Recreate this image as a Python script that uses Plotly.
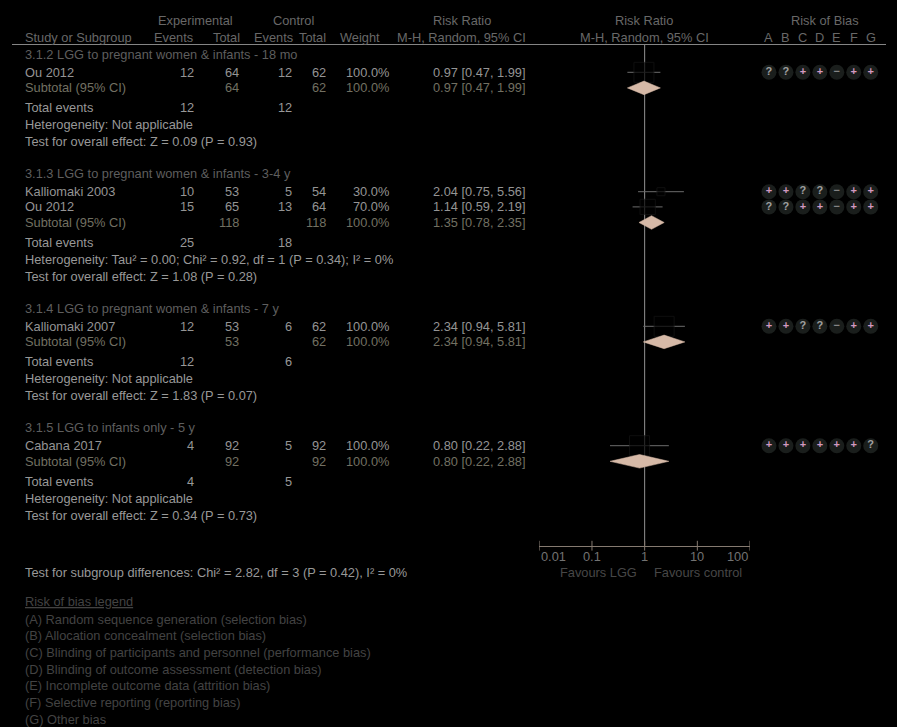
import numpy as np
import plotly.graph_objects as go

W, H = 897, 727

# ---------------- data ----------------
group_titles = [
    "3.1.2 LGG to pregnant women & infants - 18 mo",
    "3.1.3 LGG to pregnant women & infants - 3-4 y",
    "3.1.4 LGG to pregnant women & infants - 7 y",
    "3.1.5 LGG to infants only - 5 y",
]
study_names = ["Ou 2012", "Kalliomaki 2003", "Ou 2012", "Kalliomaki 2007", "Cabana 2017"]
study_group = [0, 1, 1, 2, 3]
exp_events = [12, 10, 15, 12, 4]
exp_total = [64, 53, 65, 53, 92]
ctrl_events = [12, 5, 13, 6, 5]
ctrl_total = [62, 54, 64, 62, 92]
weights = [100.0, 30.0, 70.0, 100.0, 100.0]
rr = [0.97, 2.04, 1.14, 2.34, 0.80]
rr_lo = [0.47, 0.75, 0.59, 0.94, 0.22]
rr_hi = [1.99, 5.56, 2.19, 5.81, 2.88]
rob = ["??++-++", "++??-++", "??++-++", "++??-++", "++++++?"]

sub_exp_total = [64, 118, 53, 92]
sub_ctrl_total = [62, 118, 62, 92]
sub_weight = [100.0, 100.0, 100.0, 100.0]
sub_rr = [0.97, 1.35, 2.34, 0.80]
sub_lo = [0.47, 0.78, 0.94, 0.22]
sub_hi = [1.99, 2.35, 5.81, 2.88]
tot_exp_events = [12, 25, 12, 4]
tot_ctrl_events = [12, 18, 6, 5]
heterogeneity = [
    "Not applicable",
    "Tau² = 0.00; Chi² = 0.92, df = 1 (P = 0.34); I² = 0%",
    "Not applicable",
    "Not applicable",
]
overall_effect = [
    "Z = 0.09 (P = 0.93)",
    "Z = 1.08 (P = 0.28)",
    "Z = 1.83 (P = 0.07)",
    "Z = 0.34 (P = 0.73)",
]
subgroup_diff = "Test for subgroup differences: Chi² = 2.82, df = 3 (P = 0.42), I² = 0%"
axis_ticks = [0.01, 0.1, 1, 10, 100]
axis_ticktext = ["0.01", "0.1", "1", "10", "100"]
rob_cols = ["A", "B", "C", "D", "E", "F", "G"]
rob_legend = [
    "Random sequence generation (selection bias)",
    "Allocation concealment (selection bias)",
    "Blinding of participants and personnel (performance bias)",
    "Blinding of outcome assessment (detection bias)",
    "Incomplete outcome data (attrition bias)",
    "Selective reporting (reporting bias)",
    "Other bias",
]

# ---------------- style ----------------
FONT = "Liberation Sans, Arial, sans-serif"
FS = 12.8
C_HEAD = "#686868"
C_SEC = "#5e5e5e"
C_STUDY = "#949494"
C_SUB = "#727062"
C_INFO = "#989898"
C_LEG = "#434343"
C_AX = "#857a70"

# row positions (pixels from top)
y = 54.3
sec_y, study_y, sub_y, tot_y, het_y, eff_y = [], [], [], [], [], []
for g in range(len(group_titles)):
    sec_y.append(y)
    y += 18
    idx = [i for i, gg in enumerate(study_group) if gg == g]
    for k, i in enumerate(idx):
        if k > 0:
            y += 15.2
        study_y.append(y)
    y += 15.6
    sub_y.append(y)
    y += 20
    tot_y.append(y)
    y += 17
    het_y.append(y)
    y += 16.8
    eff_y.append(y)
    y += 32

AXIS_Y = 545.7
HEAD1_Y, HEAD2_Y, RULE_Y = 20, 37.7, 44.5

# column x positions (pixels)
X_NAME = 23
X_EE, X_ET, X_CE, X_CT, X_W, X_CI = 196, 241, 294, 328, 391, 528

annotations = []


def txt(x, yy, s, color, anchor="left", xref="paper", size=FS):
    annotations.append(dict(
        x=x / W if xref == "paper" else x, y=yy, xref=xref, yref="y",
        text=s, showarrow=False, xanchor=anchor, yanchor="middle",
        font=dict(family=FONT, size=size, color=color),
    ))


# headers
txt(195, HEAD1_Y, "Experimental", C_HEAD, "center")
txt(293, HEAD1_Y, "Control", C_HEAD, "center")
txt(462, HEAD1_Y, "Risk Ratio", C_HEAD, "center")
txt(644, HEAD1_Y, "Risk Ratio", C_HEAD, "center")
txt(825, HEAD1_Y, "Risk of Bias", C_HEAD, "center")
txt(X_NAME, HEAD2_Y, "Study or Subgroup", C_HEAD)
txt(195, HEAD2_Y, "Events", C_HEAD, "right")
txt(242, HEAD2_Y, "Total", C_HEAD, "right")
txt(295, HEAD2_Y, "Events", C_HEAD, "right")
txt(328, HEAD2_Y, "Total", C_HEAD, "right")
txt(382, HEAD2_Y, "Weight", C_HEAD, "right")
txt(X_CI, HEAD2_Y, "M-H, Random, 95% CI", C_HEAD, "right")
txt(644, HEAD2_Y, "M-H, Random, 95% CI", C_HEAD, "center")
for c in rob_cols:
    annotations.append(dict(x=c, y=HEAD2_Y, xref="x2", yref="y", text=c, showarrow=False,
                            xanchor="center", yanchor="middle",
                            font=dict(family=FONT, size=FS, color=C_HEAD)))

for g in range(len(group_titles)):
    txt(X_NAME, sec_y[g], group_titles[g], C_SEC)
    txt(X_ET, sub_y[g], str(sub_exp_total[g]), C_SUB, "right")
    txt(X_CT, sub_y[g], str(sub_ctrl_total[g]), C_SUB, "right")
    txt(X_NAME, sub_y[g], "Subtotal (95% CI)", C_SUB)
    txt(X_W, sub_y[g], f"{sub_weight[g]:.1f}%", C_SUB, "right")
    txt(X_CI, sub_y[g], f"{sub_rr[g]:.2f} [{sub_lo[g]:.2f}, {sub_hi[g]:.2f}]", C_SUB, "right")
    txt(X_NAME, tot_y[g], "Total events", C_INFO)
    txt(X_EE, tot_y[g], str(tot_exp_events[g]), C_INFO, "right")
    txt(X_CE, tot_y[g], str(tot_ctrl_events[g]), C_INFO, "right")
    txt(X_NAME, het_y[g], "Heterogeneity: " + heterogeneity[g], C_INFO)
    txt(X_NAME, eff_y[g], "Test for overall effect: " + overall_effect[g], C_INFO)

for i, nm in enumerate(study_names):
    yy = study_y[i]
    txt(X_NAME, yy, nm, C_STUDY)
    txt(X_EE, yy, str(exp_events[i]), C_STUDY, "right")
    txt(X_ET, yy, str(exp_total[i]), C_STUDY, "right")
    txt(X_CE, yy, str(ctrl_events[i]), C_STUDY, "right")
    txt(X_CT, yy, str(ctrl_total[i]), C_STUDY, "right")
    txt(X_W, yy, f"{weights[i]:.1f}%", C_STUDY, "right")
    txt(X_CI, yy, f"{rr[i]:.2f} [{rr_lo[i]:.2f}, {rr_hi[i]:.2f}]", C_STUDY, "right")

# axis tick labels and favours labels
anchors = ["left", "center", "center", "center", "right"]
for v, t, a in zip(axis_ticks, axis_ticktext, anchors):
    annotations.append(dict(x=np.log10(v), y=556, xref="x", yref="y", text=t, showarrow=False,
                            xanchor=a, yanchor="middle",
                            font=dict(family=FONT, size=FS, color="#727272")))
annotations.append(dict(x=np.log10(0.77), y=572.3, xref="x", yref="y", text="Favours LGG",
                        showarrow=False, xanchor="right", yanchor="middle",
                        font=dict(family=FONT, size=FS, color="#474747")))
annotations.append(dict(x=np.log10(1.36), y=572.3, xref="x", yref="y", text="Favours control",
                        showarrow=False, xanchor="left", yanchor="middle",
                        font=dict(family=FONT, size=FS, color="#474747")))

# footer
txt(X_NAME, 572.3, subgroup_diff, C_INFO)
txt(X_NAME, 601.7, "<u>Risk of bias legend</u>", C_LEG)
for k, s in enumerate(rob_legend):
    txt(X_NAME, 619 + 16.67 * k, f"({rob_cols[k]}) {s}", C_LEG)

fig = go.Figure()

# reference line at RR = 1
fig.add_trace(go.Scatter(x=[1, 1], y=[RULE_Y, AXIS_Y], mode="lines",
                         line=dict(color="#929292", width=1), hoverinfo="skip"))

# CI lines
cx, cy = [], []
for i in range(len(study_names)):
    cx += [rr_lo[i], rr_hi[i], None]
    cy += [study_y[i], study_y[i], None]
fig.add_trace(go.Scatter(x=cx, y=cy, mode="lines", line=dict(color="#6c6c6c", width=1),
                         hoverinfo="skip"))

# squares
fig.add_trace(go.Scatter(
    x=rr, y=study_y, mode="markers",
    marker=dict(symbol="square", size=[20 * (w / 100) ** 0.75 for w in weights],
                color="#000000", line=dict(color="#161616", width=1)),
    hoverinfo="skip"))

# diamonds
HALF = 6.8
for g in range(len(group_titles)):
    fig.add_trace(go.Scatter(
        x=[sub_lo[g], sub_rr[g], sub_hi[g], sub_rr[g], sub_lo[g]],
        y=[sub_y[g], sub_y[g] - HALF, sub_y[g], sub_y[g] + HALF, sub_y[g]],
        mode="lines", fill="toself", fillcolor="#d6b9a7",
        line=dict(color="#d6b9a7", width=0.5), hoverinfo="skip"))

# axis tick marks
fig.add_trace(go.Scatter(
    x=axis_ticks, y=[AXIS_Y] * len(axis_ticks), mode="markers",
    marker=dict(symbol="line-ns", size=7, line=dict(color=C_AX, width=1)),
    hoverinfo="skip"))

# risk of bias circles
sym_map = {"+": "+", "?": "?", "-": "−"}
col_map = {"+": "#d39ac0", "?": "#a0a0a0", "-": "#858585"}
for i in range(len(study_names)):
    codes = list(rob[i])
    fig.add_trace(go.Scatter(
        x=rob_cols, y=[study_y[i]] * 7, xaxis="x2", yaxis="y",
        mode="markers+text",
        marker=dict(symbol="circle", size=15, color="#1a1e1c"),
        text=[sym_map[c] for c in codes], textposition="middle center",
        textfont=dict(family=FONT, size=11, color=[col_map[c] for c in codes], weight="bold"),
        hoverinfo="skip"))

fig.update_layout(
    width=W, height=H, margin=dict(l=0, r=0, t=0, b=0),
    paper_bgcolor="#000000", plot_bgcolor="#000000",
    showlegend=False,
    xaxis=dict(type="log", range=[-2, 2], domain=[539.3 / W, 750 / W],
               anchor="free", position=(H - AXIS_Y) / H,
               showline=True, linecolor=C_AX, linewidth=1, ticks="",
               showticklabels=False, showgrid=False, zeroline=False),
    xaxis2=dict(type="category", categoryorder="array", categoryarray=rob_cols,
                range=[-0.5, 6.5], domain=[760.5 / W, 879.2 / W], anchor="y",
                visible=False),
    yaxis=dict(range=[H, 0], domain=[0, 1], visible=False),
    shapes=[dict(type="line", xref="paper", yref="y", x0=12 / W, x1=886 / W,
                 y0=RULE_Y, y1=RULE_Y, line=dict(color="#858585", width=1))],
    annotations=annotations,
)

fig.write_html("out.html", config={"displayModeBar": False},
               post_script="document.body.style.margin='0';")
